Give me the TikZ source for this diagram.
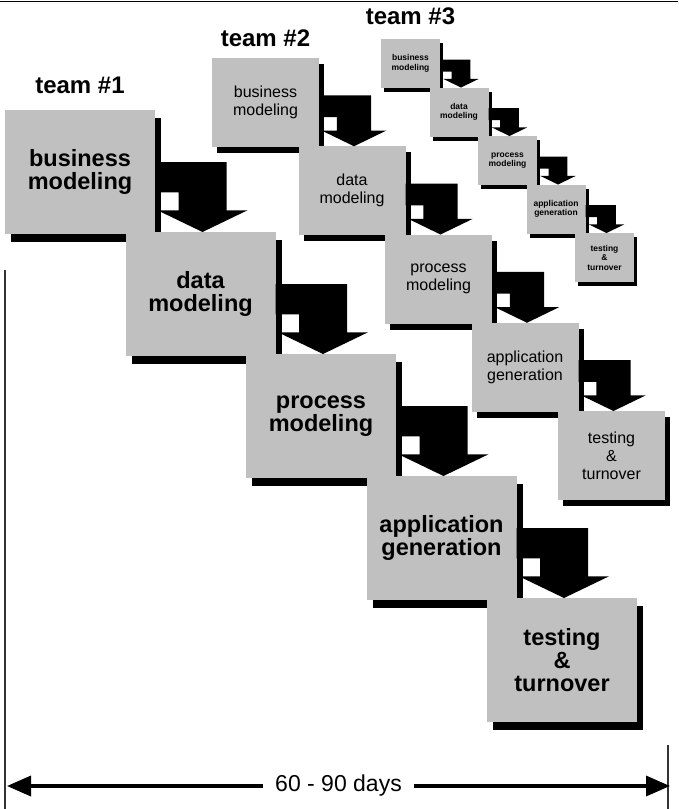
\documentclass[tikz,border=0pt]{standalone}
\usepackage{fontspec}
\setmainfont{Liberation Sans}
\usepackage{tikz}
\usetikzlibrary{positioning}
\usetikzlibrary{calc}
\usetikzlibrary{shadows}
\usetikzlibrary{arrows.meta}
\definecolor{boxgray}{RGB}{192,192,192}

% fat elbow arrow from box #1 down onto box #2 (box width #3, height #4)
\newcommand{\stagearrow}[4]{%
    \coordinate (up) at ($(#1.north east)+(0,0.42*#4)$);
    \coordinate (lo) at ($(#1.north east)+(0,0.665*#4)$);
    \coordinate (hd) at ($(#2.north)+(2,-0.175*#4)$);
    \fill (up) -- ($(hd |- up)+(0.16*#3,0)$) -- ($(hd)+(0.16*#3,0)$)
        -- ($(hd)+(0.3*#3,0)$) -- ($(#2.north)+(2,0)$) -- ($(hd)+(-0.3*#3,0)$)
        -- ($(hd)+(-0.16*#3,0)$) -- ($(hd |- lo)+(-0.16*#3,0)$) -- (lo) -- cycle;
}

\begin{document}
\begin{tikzpicture}[
            x = 1pt, y = -1pt, % pixel grid, y pointing down
            > = {Triangle[length=24pt, width=20pt]}, % arrow head style
            every node/.style = {inner sep = 0pt, outer sep = 0pt}
        ]

        \tikzstyle{bigbox}=[
            fill = boxgray,
            minimum width = 150pt,
            minimum height = 124pt,
            align = center,
            font = \fontsize{23.5}{23}\selectfont\bfseries,
            drop shadow = {fill = black, opacity = 1, shadow xshift = 6pt, shadow yshift = -8pt}
        ]
        \tikzstyle{midbox}=[
            fill = boxgray,
            minimum width = 107pt,
            minimum height = 89pt,
            align = center,
            font = \fontsize{16}{18}\selectfont,
            drop shadow = {fill = black, opacity = 1, shadow xshift = 5pt, shadow yshift = -6pt}
        ]
        \tikzstyle{smallbox}=[
            fill = boxgray,
            minimum width = 59pt,
            minimum height = 49pt,
            align = center,
            font = \fontsize{8.5}{9.5}\selectfont\bfseries,
            drop shadow = {fill = black, opacity = 1, shadow xshift = 3pt, shadow yshift = -4pt}
        ]
        \tikzstyle{teamlabel}=[font = \fontsize{24}{24}\selectfont\bfseries]

        \useasboundingbox (0,0) rectangle (678,809);
        \draw[line width = 1.5pt] (0,1.5) -- (678,1.5);

        % team 3
        \node[smallbox, anchor = north west] (s1) at (381,39) {business\\modeling};
        \node[smallbox] (s2) [below right = -0.5pt and -10.5pt of s1] {data\\modeling};
        \node[smallbox] (s3) [below right = -0.5pt and -10.5pt of s2] {process\\modeling};
        \node[smallbox] (s4) [below right = -0.5pt and -10.5pt of s3] {application\\generation};
        \node[smallbox] (s5) [below right = -0.5pt and -10.5pt of s4] {testing\\\&\\turnover};
        \node[teamlabel] (t3) [above = 14pt of s1] {team \#3};

        \stagearrow{s1}{s2}{59}{49}
        \stagearrow{s2}{s3}{59}{49}
        \stagearrow{s3}{s4}{59}{49}
        \stagearrow{s4}{s5}{59}{49}

        % team 2
        \node[midbox, anchor = north west] (m1) at (212,58) {business\\modeling};
        \node[midbox] (m2) [below right = -0.75pt and -20.5pt of m1] {data\\modeling};
        \node[midbox] (m3) [below right = -0.75pt and -20.5pt of m2] {process\\modeling};
        \node[midbox] (m4) [below right = -0.75pt and -20.5pt of m3] {application\\generation};
        \node[midbox] (m5) [below right = -0.75pt and -20.5pt of m4] {testing\\\&\\turnover};
        \node[teamlabel] (t2) [above = 11pt of m1] {team \#2};

        \stagearrow{m1}{m2}{107}{89}
        \stagearrow{m2}{m3}{107}{89}
        \stagearrow{m3}{m4}{107}{89}
        \stagearrow{m4}{m5}{107}{89}

        % team 1
        \node[bigbox, anchor = north west] (b1) at (5,110) {business\\modeling};
        \node[bigbox] (b2) [below right = -2pt and -29.5pt of b1] {data\\modeling};
        \node[bigbox] (b3) [below right = -2pt and -29.5pt of b2] {process\\modeling};
        \node[bigbox] (b4) [below right = -2pt and -29.5pt of b3] {application\\generation};
        \node[bigbox] (b5) [below right = -2pt and -29.5pt of b4] {testing\\\&\\turnover};
        \node[teamlabel] (t1) [above = 16pt of b1] {team \#1};

        \stagearrow{b1}{b2}{150}{124}
        \stagearrow{b2}{b3}{150}{124}
        \stagearrow{b3}{b4}{150}{124}
        \stagearrow{b4}{b5}{150}{124}

        % time span
        \coordinate (ltop) at (5,270);
        \coordinate (lbot) at (5,809);
        \coordinate (rtop) at (668,745);
        \coordinate (rbot) at (668,809);
        \draw[line width = 2pt, black!80] (ltop) -- (lbot);
        \draw[line width = 2pt, black!80] (rtop) -- (rbot);

        \coordinate (dl) at (7,786);
        \coordinate (dr) at (670,786);
        \draw[<->, line width = 3.5pt] (dl) -- node[fill = white, inner xsep = 12pt, inner ysep = 2pt,
            font = \fontsize{23}{23}\selectfont] (days) {60 - 90 days} (dr);

\end{tikzpicture}
\end{document}
